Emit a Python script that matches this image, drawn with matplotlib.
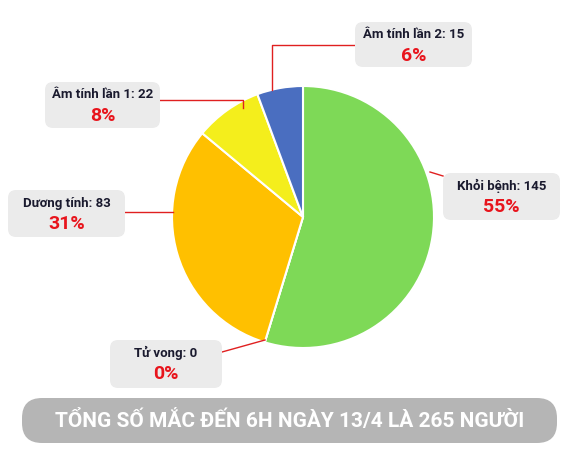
import matplotlib
matplotlib.use("Agg")
import matplotlib.pyplot as plt
from matplotlib.patches import FancyBboxPatch

labels = ["Khỏi bệnh: 145", "Tử vong: 0", "Dương tính: 83", "Âm tính lần 1: 22", "Âm tính lần 2: 15"]
values = [145, 0, 83, 22, 15]
percents = ["55%", "0%", "31%", "8%", "6%"]
colors = ["#7ed957", "#ffc000", "#ffc000", "#f4ee1c", "#4a6ec0"]
title = "TỔNG SỐ MẮC ĐẾN 6H NGÀY 13/4 LÀ 265 NGƯỜI"

plt.rcParams['font.family'] = ['Roboto', 'DejaVu Sans']
fig = plt.figure(figsize=(5.8, 4.5), dpi=100)
ax = fig.add_axes([0, 0, 1, 1])
ax.set_xlim(0, 580); ax.set_ylim(450, 0); ax.set_aspect('equal'); ax.axis('off')

ax.pie(values, colors=colors, startangle=270, counterclock=True, center=(303, 217), radius=131,
       wedgeprops=dict(edgecolor='white', linewidth=1.5), frame=True)
ax.set_xlim(0, 580); ax.set_ylim(450, 0); ax.axis('off')

# boxes: (x0, y0, x1, y1)
boxes = [(443, 173, 560, 220), (110, 340, 222, 388), (8, 190, 125, 237), (45, 82, 160, 128), (355, 22, 472, 67)]
leaders = [[(443, 176), (430, 172)], [(222, 352), (265, 340)], [(125, 212), (173, 212)],
           [(160, 100), (243, 100), (243, 108)], [(355, 45), (272, 45), (272, 90)]]
for lab, pct, (x0, y0, x1, y1), ld in zip(labels, percents, boxes, leaders):
    ax.add_patch(FancyBboxPatch((x0, y0), x1 - x0, y1 - y0, boxstyle="round,pad=0,rounding_size=8",
                                fc="#ebebeb", ec="none", zorder=3))
    xs, ys = zip(*ld)
    ax.plot(xs, ys, color="#e02020", lw=1, zorder=2)
    cx = (x0 + x1) / 2
    ax.text(cx, y0 + 13, lab, ha='center', va='center', fontsize=9.5, fontweight='bold', color='#1a1a2e', zorder=4)
    ax.text(cx, y0 + 34, pct, ha='center', va='center', fontsize=14, fontweight='bold', color='#e8141c', zorder=4)

ax.add_patch(FancyBboxPatch((22, 398), 535, 45, boxstyle="round,pad=0,rounding_size=20",
                            fc="#b5b5b5", ec="none", zorder=3))
ax.text(289.5, 421, title, ha='center', va='center', fontsize=15, fontweight='bold', color='white', zorder=4)

fig.savefig("out.png", dpi=100, facecolor='white')
